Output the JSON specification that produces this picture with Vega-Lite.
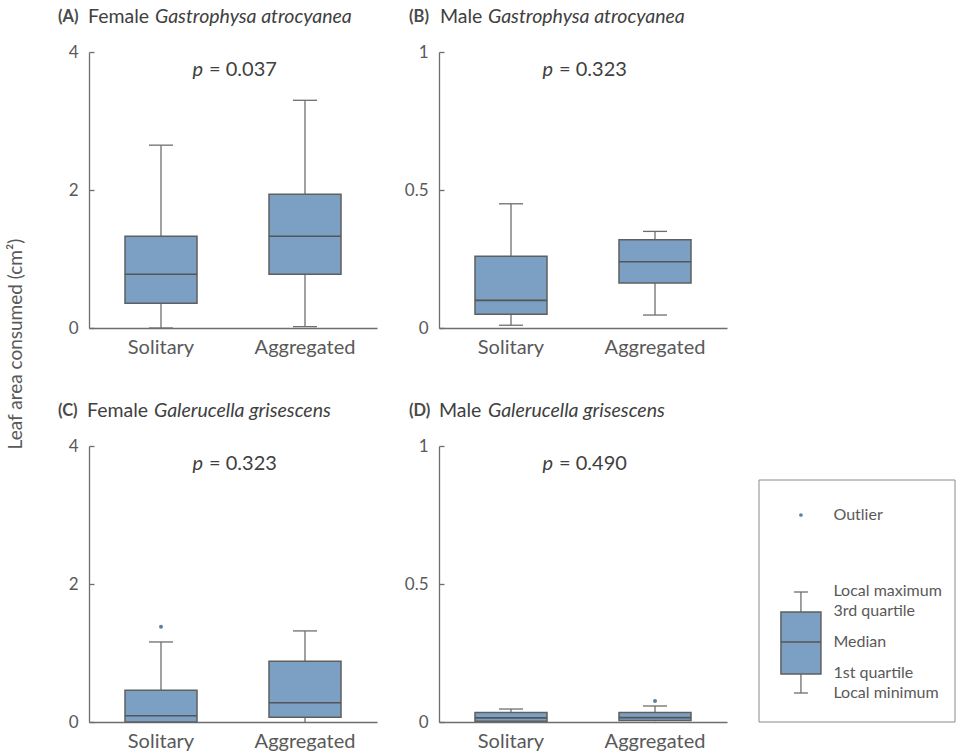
{
  "$schema": "https://vega.github.io/schema/vega-lite/v6.json",
  "padding": {"left": 6, "top": 7, "right": 2, "bottom": 1},
  "datasets": {
    "stats": [
      {"panel": "A", "group": "Solitary", "min": 0, "q1": 0.36, "median": 0.78, "q3": 1.33, "max": 2.65},
      {"panel": "A", "group": "Aggregated", "min": 0.02, "q1": 0.78, "median": 1.33, "q3": 1.94, "max": 3.3},
      {"panel": "B", "group": "Solitary", "min": 0.01, "q1": 0.05, "median": 0.1, "q3": 0.26, "max": 0.45},
      {"panel": "B", "group": "Aggregated", "min": 0.047, "q1": 0.163, "median": 0.24, "q3": 0.32, "max": 0.35},
      {"panel": "C", "group": "Solitary", "min": 0, "q1": 0, "median": 0.09, "q3": 0.46, "max": 1.16},
      {"panel": "C", "group": "Aggregated", "min": 0, "q1": 0.07, "median": 0.28, "q3": 0.88, "max": 1.32},
      {"panel": "D", "group": "Solitary", "min": 0, "q1": 0.003, "median": 0.015, "q3": 0.034, "max": 0.047},
      {"panel": "D", "group": "Aggregated", "min": 0.003, "q1": 0.005, "median": 0.016, "q3": 0.034, "max": 0.058}
    ],
    "outliers": [
      {"panel": "C", "group": "Solitary", "value": 1.38},
      {"panel": "D", "group": "Aggregated", "value": 0.076}
    ],
    "pvals": [
      {"panel": "A", "p": "= 0.037", "lab": "(A)", "sex": "Female", "sp": "Gastrophysa atrocyanea"},
      {"panel": "B", "p": "= 0.323", "lab": "(B)", "sex": "Male", "sp": "Gastrophysa atrocyanea"},
      {"panel": "C", "p": "= 0.323", "lab": "(C)", "sex": "Female", "sp": "Galerucella grisescens"},
      {"panel": "D", "p": "= 0.490", "lab": "(D)", "sex": "Male", "sp": "Galerucella grisescens"}
    ],
    "legendBox": [
      {"min": 1.45, "q1": 2.4, "median": 4.0, "q3": 5.5, "max": 6.5}
    ],
    "legendFrame": [
      {"x0": 0, "x1": 1, "y0": 0, "y1": 12.1}
    ],
    "legendText": [
      {"label": "Outlier", "y": 10.35},
      {"label": "Local maximum", "y": 6.55},
      {"label": "3rd quartile", "y": 5.55},
      {"label": "Median", "y": 4.0},
      {"label": "1st quartile", "y": 2.45},
      {"label": "Local minimum", "y": 1.45}
    ],
    "legendOutlier": [{"y": 10.35}]
  },
  "title": {"text": "Leaf area consumed (cm²)", "orient": "left", "anchor": "middle", "frame": "bounds", "fontSize": 19, "fontWeight": "normal", "color": "#595959", "font": "Lato", "offset": 32, "dx": 35},
  "spacing": 44,
  "vconcat": [
    {
      "spacing": 27,
      "hconcat": [
        {
          "width": 288, "height": 276,
          "layer": [
            {"data": {"name": "stats"}, "transform": [{"filter": "datum.panel === 'A'"}],
             "mark": {"type": "rule", "color": "#6e6e6e", "strokeWidth": 1.3},
             "encoding": {"x": {"field": "group", "type": "nominal", "sort": ["Solitary", "Aggregated"], "scale": {"paddingInner": 0, "paddingOuter": 0}, "axis": {"title": null}},
                          "y": {"field": "min", "type": "quantitative", "scale": {"domain": [0, 4], "nice": false}, "axis": {"values": [0, 2, 4], "format": "d", "title": null}},
                          "y2": {"field": "max"}}},
            {"data": {"name": "stats"}, "transform": [{"filter": "datum.panel === 'A'"}],
             "mark": {"type": "bar", "fill": "#7BA0C4", "stroke": "#5f5f5f", "strokeWidth": 1.5, "width": {"band": 0.5}},
             "encoding": {"x": {"field": "group", "type": "nominal", "sort": ["Solitary", "Aggregated"]},
                          "y": {"field": "q1", "type": "quantitative"}, "y2": {"field": "q3"}}},
            {"data": {"name": "stats"}, "transform": [{"filter": "datum.panel === 'A'"}],
             "mark": {"type": "tick", "color": "#555555", "thickness": 1.6, "size": 72, "opacity": 1},
             "encoding": {"x": {"field": "group", "type": "nominal", "sort": ["Solitary", "Aggregated"]}, "y": {"field": "median", "type": "quantitative"}}},
            {"data": {"name": "stats"}, "transform": [{"filter": "datum.panel === 'A'"}],
             "mark": {"type": "tick", "color": "#6e6e6e", "thickness": 1.3, "size": 24, "opacity": 1},
             "encoding": {"x": {"field": "group", "type": "nominal", "sort": ["Solitary", "Aggregated"]}, "y": {"field": "min", "type": "quantitative"}}},
            {"data": {"name": "stats"}, "transform": [{"filter": "datum.panel === 'A'"}],
             "mark": {"type": "tick", "color": "#6e6e6e", "thickness": 1.3, "size": 24, "opacity": 1},
             "encoding": {"x": {"field": "group", "type": "nominal", "sort": ["Solitary", "Aggregated"]}, "y": {"field": "max", "type": "quantitative"}}},
            {"data": {"name": "pvals"}, "transform": [{"filter": "datum.panel === 'A'"}],
             "mark": {"type": "text", "align": "right", "baseline": "middle", "dx": -30, "fontStyle": "italic", "fontSize": 20, "font": "Lato", "color": "#404040", "text": "p"},
             "encoding": {"y": {"datum": 3.74}}},
            {"data": {"name": "pvals"}, "transform": [{"filter": "datum.panel === 'A'"}],
             "mark": {"type": "text", "align": "left", "baseline": "middle", "dx": -24, "fontSize": 20, "font": "Lato", "color": "#404040"},
             "encoding": {"y": {"datum": 3.74}, "text": {"field": "p"}}},
            {"data": {"name": "pvals"}, "transform": [{"filter": "datum.panel === 'A'"}],
             "mark": {"type": "text", "align": "left", "baseline": "middle", "dx": -175, "dy": -35, "fontSize": 16.5, "fontWeight": "bold", "font": "Lato", "color": "#4a4a4a"},
             "encoding": {"y": {"datum": 4}, "text": {"field": "lab"}}},
            {"data": {"name": "pvals"}, "transform": [{"filter": "datum.panel === 'A'"}],
             "mark": {"type": "text", "align": "left", "baseline": "middle", "dx": -145, "dy": -35, "fontSize": 19.5, "font": "Lato", "color": "#404040"},
             "encoding": {"y": {"datum": 4}, "text": {"field": "sex"}}},
            {"data": {"name": "pvals"}, "transform": [{"filter": "datum.panel === 'A'"}],
             "mark": {"type": "text", "align": "left", "baseline": "middle", "dx": -78, "dy": -35, "fontSize": 19.5, "fontStyle": "italic", "font": "Lato", "color": "#404040"},
             "encoding": {"y": {"datum": 4}, "text": {"field": "sp"}}}
          ]
        },
        {
          "width": 288, "height": 276,
          "layer": [
            {"data": {"name": "stats"}, "transform": [{"filter": "datum.panel === 'B'"}],
             "mark": {"type": "rule", "color": "#6e6e6e", "strokeWidth": 1.3},
             "encoding": {"x": {"field": "group", "type": "nominal", "sort": ["Solitary", "Aggregated"], "scale": {"paddingInner": 0, "paddingOuter": 0}, "axis": {"title": null}},
                          "y": {"field": "min", "type": "quantitative", "scale": {"domain": [0, 1], "nice": false}, "axis": {"values": [0, 0.5, 1], "format": ".1~f", "title": null}},
                          "y2": {"field": "max"}}},
            {"data": {"name": "stats"}, "transform": [{"filter": "datum.panel === 'B'"}],
             "mark": {"type": "bar", "fill": "#7BA0C4", "stroke": "#5f5f5f", "strokeWidth": 1.5, "width": {"band": 0.5}},
             "encoding": {"x": {"field": "group", "type": "nominal", "sort": ["Solitary", "Aggregated"]},
                          "y": {"field": "q1", "type": "quantitative"}, "y2": {"field": "q3"}}},
            {"data": {"name": "stats"}, "transform": [{"filter": "datum.panel === 'B'"}],
             "mark": {"type": "tick", "color": "#555555", "thickness": 1.6, "size": 72, "opacity": 1},
             "encoding": {"x": {"field": "group", "type": "nominal", "sort": ["Solitary", "Aggregated"]}, "y": {"field": "median", "type": "quantitative"}}},
            {"data": {"name": "stats"}, "transform": [{"filter": "datum.panel === 'B'"}],
             "mark": {"type": "tick", "color": "#6e6e6e", "thickness": 1.3, "size": 24, "opacity": 1},
             "encoding": {"x": {"field": "group", "type": "nominal", "sort": ["Solitary", "Aggregated"]}, "y": {"field": "min", "type": "quantitative"}}},
            {"data": {"name": "stats"}, "transform": [{"filter": "datum.panel === 'B'"}],
             "mark": {"type": "tick", "color": "#6e6e6e", "thickness": 1.3, "size": 24, "opacity": 1},
             "encoding": {"x": {"field": "group", "type": "nominal", "sort": ["Solitary", "Aggregated"]}, "y": {"field": "max", "type": "quantitative"}}},
            {"data": {"name": "pvals"}, "transform": [{"filter": "datum.panel === 'B'"}],
             "mark": {"type": "text", "align": "right", "baseline": "middle", "dx": -30, "fontStyle": "italic", "fontSize": 20, "font": "Lato", "color": "#404040", "text": "p"},
             "encoding": {"y": {"datum": 0.935}}},
            {"data": {"name": "pvals"}, "transform": [{"filter": "datum.panel === 'B'"}],
             "mark": {"type": "text", "align": "left", "baseline": "middle", "dx": -24, "fontSize": 20, "font": "Lato", "color": "#404040"},
             "encoding": {"y": {"datum": 0.935}, "text": {"field": "p"}}},
            {"data": {"name": "pvals"}, "transform": [{"filter": "datum.panel === 'B'"}],
             "mark": {"type": "text", "align": "left", "baseline": "middle", "dx": -174, "dy": -35, "fontSize": 16.5, "fontWeight": "bold", "font": "Lato", "color": "#4a4a4a"},
             "encoding": {"y": {"datum": 1}, "text": {"field": "lab"}}},
            {"data": {"name": "pvals"}, "transform": [{"filter": "datum.panel === 'B'"}],
             "mark": {"type": "text", "align": "left", "baseline": "middle", "dx": -143, "dy": -35, "fontSize": 19.5, "font": "Lato", "color": "#404040"},
             "encoding": {"y": {"datum": 1}, "text": {"field": "sex"}}},
            {"data": {"name": "pvals"}, "transform": [{"filter": "datum.panel === 'B'"}],
             "mark": {"type": "text", "align": "left", "baseline": "middle", "dx": -95, "dy": -35, "fontSize": 19.5, "fontStyle": "italic", "font": "Lato", "color": "#404040"},
             "encoding": {"y": {"datum": 1}, "text": {"field": "sp"}}}
          ]
        }
      ]
    },
    {
      "spacing": 27,
      "hconcat": [
        {
          "width": 288, "height": 276,
          "layer": [
            {"data": {"name": "stats"}, "transform": [{"filter": "datum.panel === 'C'"}],
             "mark": {"type": "rule", "color": "#6e6e6e", "strokeWidth": 1.3},
             "encoding": {"x": {"field": "group", "type": "nominal", "sort": ["Solitary", "Aggregated"], "scale": {"paddingInner": 0, "paddingOuter": 0}, "axis": {"title": null}},
                          "y": {"field": "min", "type": "quantitative", "scale": {"domain": [0, 4], "nice": false}, "axis": {"values": [0, 2, 4], "format": "d", "title": null}},
                          "y2": {"field": "max"}}},
            {"data": {"name": "stats"}, "transform": [{"filter": "datum.panel === 'C'"}],
             "mark": {"type": "bar", "fill": "#7BA0C4", "stroke": "#5f5f5f", "strokeWidth": 1.5, "width": {"band": 0.5}},
             "encoding": {"x": {"field": "group", "type": "nominal", "sort": ["Solitary", "Aggregated"]},
                          "y": {"field": "q1", "type": "quantitative"}, "y2": {"field": "q3"}}},
            {"data": {"name": "stats"}, "transform": [{"filter": "datum.panel === 'C'"}],
             "mark": {"type": "tick", "color": "#555555", "thickness": 1.6, "size": 72, "opacity": 1},
             "encoding": {"x": {"field": "group", "type": "nominal", "sort": ["Solitary", "Aggregated"]}, "y": {"field": "median", "type": "quantitative"}}},
            {"data": {"name": "stats"}, "transform": [{"filter": "datum.panel === 'C'"}],
             "mark": {"type": "tick", "color": "#6e6e6e", "thickness": 1.3, "size": 24, "opacity": 1},
             "encoding": {"x": {"field": "group", "type": "nominal", "sort": ["Solitary", "Aggregated"]}, "y": {"field": "max", "type": "quantitative"}}},
            {"data": {"name": "outliers"}, "transform": [{"filter": "datum.panel === 'C'"}],
             "mark": {"type": "point", "filled": true, "size": 16, "color": "#5E7FA3", "opacity": 1},
             "encoding": {"x": {"field": "group", "type": "nominal", "sort": ["Solitary", "Aggregated"]}, "y": {"field": "value", "type": "quantitative"}}},
            {"data": {"name": "pvals"}, "transform": [{"filter": "datum.panel === 'C'"}],
             "mark": {"type": "text", "align": "right", "baseline": "middle", "dx": -30, "fontStyle": "italic", "fontSize": 20, "font": "Lato", "color": "#404040", "text": "p"},
             "encoding": {"y": {"datum": 3.74}}},
            {"data": {"name": "pvals"}, "transform": [{"filter": "datum.panel === 'C'"}],
             "mark": {"type": "text", "align": "left", "baseline": "middle", "dx": -24, "fontSize": 20, "font": "Lato", "color": "#404040"},
             "encoding": {"y": {"datum": 3.74}, "text": {"field": "p"}}},
            {"data": {"name": "pvals"}, "transform": [{"filter": "datum.panel === 'C'"}],
             "mark": {"type": "text", "align": "left", "baseline": "middle", "dx": -175, "dy": -35, "fontSize": 16.5, "fontWeight": "bold", "font": "Lato", "color": "#4a4a4a"},
             "encoding": {"y": {"datum": 4}, "text": {"field": "lab"}}},
            {"data": {"name": "pvals"}, "transform": [{"filter": "datum.panel === 'C'"}],
             "mark": {"type": "text", "align": "left", "baseline": "middle", "dx": -146, "dy": -35, "fontSize": 19.5, "font": "Lato", "color": "#404040"},
             "encoding": {"y": {"datum": 4}, "text": {"field": "sex"}}},
            {"data": {"name": "pvals"}, "transform": [{"filter": "datum.panel === 'C'"}],
             "mark": {"type": "text", "align": "left", "baseline": "middle", "dx": -79, "dy": -35, "fontSize": 19.5, "fontStyle": "italic", "font": "Lato", "color": "#404040"},
             "encoding": {"y": {"datum": 4}, "text": {"field": "sp"}}}
          ]
        },
        {
          "width": 288, "height": 276,
          "layer": [
            {"data": {"name": "stats"}, "transform": [{"filter": "datum.panel === 'D'"}],
             "mark": {"type": "rule", "color": "#6e6e6e", "strokeWidth": 1.3},
             "encoding": {"x": {"field": "group", "type": "nominal", "sort": ["Solitary", "Aggregated"], "scale": {"paddingInner": 0, "paddingOuter": 0}, "axis": {"title": null}},
                          "y": {"field": "min", "type": "quantitative", "scale": {"domain": [0, 1], "nice": false}, "axis": {"values": [0, 0.5, 1], "format": ".1~f", "title": null}},
                          "y2": {"field": "max"}}},
            {"data": {"name": "stats"}, "transform": [{"filter": "datum.panel === 'D'"}],
             "mark": {"type": "bar", "fill": "#7BA0C4", "stroke": "#5f5f5f", "strokeWidth": 1.5, "width": {"band": 0.5}},
             "encoding": {"x": {"field": "group", "type": "nominal", "sort": ["Solitary", "Aggregated"]},
                          "y": {"field": "q1", "type": "quantitative"}, "y2": {"field": "q3"}}},
            {"data": {"name": "stats"}, "transform": [{"filter": "datum.panel === 'D'"}],
             "mark": {"type": "tick", "color": "#555555", "thickness": 1.6, "size": 72, "opacity": 1},
             "encoding": {"x": {"field": "group", "type": "nominal", "sort": ["Solitary", "Aggregated"]}, "y": {"field": "median", "type": "quantitative"}}},
            {"data": {"name": "stats"}, "transform": [{"filter": "datum.panel === 'D'"}],
             "mark": {"type": "tick", "color": "#6e6e6e", "thickness": 1.3, "size": 24, "opacity": 1},
             "encoding": {"x": {"field": "group", "type": "nominal", "sort": ["Solitary", "Aggregated"]}, "y": {"field": "max", "type": "quantitative"}}},
            {"data": {"name": "outliers"}, "transform": [{"filter": "datum.panel === 'D'"}],
             "mark": {"type": "point", "filled": true, "size": 16, "color": "#5E7FA3", "opacity": 1},
             "encoding": {"x": {"field": "group", "type": "nominal", "sort": ["Solitary", "Aggregated"]}, "y": {"field": "value", "type": "quantitative"}}},
            {"data": {"name": "pvals"}, "transform": [{"filter": "datum.panel === 'D'"}],
             "mark": {"type": "text", "align": "right", "baseline": "middle", "dx": -30, "fontStyle": "italic", "fontSize": 20, "font": "Lato", "color": "#404040", "text": "p"},
             "encoding": {"y": {"datum": 0.935}}},
            {"data": {"name": "pvals"}, "transform": [{"filter": "datum.panel === 'D'"}],
             "mark": {"type": "text", "align": "left", "baseline": "middle", "dx": -24, "fontSize": 20, "font": "Lato", "color": "#404040"},
             "encoding": {"y": {"datum": 0.935}, "text": {"field": "p"}}},
            {"data": {"name": "pvals"}, "transform": [{"filter": "datum.panel === 'D'"}],
             "mark": {"type": "text", "align": "left", "baseline": "middle", "dx": -174, "dy": -35, "fontSize": 16.5, "fontWeight": "bold", "font": "Lato", "color": "#4a4a4a"},
             "encoding": {"y": {"datum": 1}, "text": {"field": "lab"}}},
            {"data": {"name": "pvals"}, "transform": [{"filter": "datum.panel === 'D'"}],
             "mark": {"type": "text", "align": "left", "baseline": "middle", "dx": -144, "dy": -35, "fontSize": 19.5, "font": "Lato", "color": "#404040"},
             "encoding": {"y": {"datum": 1}, "text": {"field": "sex"}}},
            {"data": {"name": "pvals"}, "transform": [{"filter": "datum.panel === 'D'"}],
             "mark": {"type": "text", "align": "left", "baseline": "middle", "dx": -95, "dy": -35, "fontSize": 19.5, "fontStyle": "italic", "font": "Lato", "color": "#404040"},
             "encoding": {"y": {"datum": 1}, "text": {"field": "sp"}}}
          ]
        },
        {
          "width": 206, "height": 276,
          "layer": [
            {"data": {"name": "legendFrame"},
             "mark": {"type": "rect", "fill": null, "filled": false, "stroke": "#8a8a8a", "strokeWidth": 1},
             "encoding": {"x": {"field": "x0", "type": "quantitative", "scale": {"domain": [0, 1], "nice": false}, "axis": null},
                          "x2": {"field": "x1"},
                          "y": {"field": "y0", "type": "quantitative", "scale": {"domain": [0, 13.8], "nice": false}, "axis": null},
                          "y2": {"field": "y1"}}},
            {"data": {"name": "legendBox"},
             "mark": {"type": "rule", "color": "#6e6e6e", "strokeWidth": 1.3},
             "encoding": {"x": {"datum": 0.214, "type": "quantitative"},
                          "y": {"field": "min", "type": "quantitative"},
                          "y2": {"field": "max"}}},
            {"data": {"name": "legendBox"},
             "mark": {"type": "bar", "fill": "#7BA0C4", "stroke": "#5f5f5f", "strokeWidth": 1.5, "width": 40},
             "encoding": {"x": {"datum": 0.214, "type": "quantitative"},
                          "y": {"field": "q1", "type": "quantitative"}, "y2": {"field": "q3"}}},
            {"data": {"name": "legendBox"},
             "mark": {"type": "tick", "orient": "horizontal", "color": "#555555", "thickness": 1.6, "size": 40, "opacity": 1},
             "encoding": {"x": {"datum": 0.214, "type": "quantitative"}, "y": {"field": "median", "type": "quantitative"}}},
            {"data": {"name": "legendBox"},
             "mark": {"type": "tick", "orient": "horizontal", "color": "#6e6e6e", "thickness": 1.3, "size": 14, "opacity": 1},
             "encoding": {"x": {"datum": 0.214, "type": "quantitative"}, "y": {"field": "min", "type": "quantitative"}}},
            {"data": {"name": "legendBox"},
             "mark": {"type": "tick", "orient": "horizontal", "color": "#6e6e6e", "thickness": 1.3, "size": 14, "opacity": 1},
             "encoding": {"x": {"datum": 0.214, "type": "quantitative"}, "y": {"field": "max", "type": "quantitative"}}},
            {"data": {"name": "legendOutlier"},
             "mark": {"type": "point", "filled": true, "size": 14, "color": "#5E7FA3", "opacity": 1},
             "encoding": {"x": {"datum": 0.214, "type": "quantitative"}, "y": {"field": "y", "type": "quantitative"}}},
            {"data": {"name": "legendText"},
             "mark": {"type": "text", "align": "left", "baseline": "middle", "fontSize": 16, "font": "Lato", "color": "#595959"},
             "encoding": {"x": {"datum": 0.38, "type": "quantitative"}, "y": {"field": "y", "type": "quantitative"}, "text": {"field": "label"}}}
          ]
        }
      ]
    }
  ],
  "config": {
    "font": "Lato",
    "view": {"stroke": null},
    "axis": {"grid": false, "domainColor": "#6e6e6e", "domainWidth": 1.3, "tickColor": "#6e6e6e", "tickWidth": 1.3, "labelColor": "#595959", "labelFont": "Lato", "labelFontSize": 17},
    "axisY": {"tickSize": -5, "labelPadding": 16},
    "axisX": {"ticks": false, "labelPadding": 9, "labelAngle": 0, "labelFontSize": 20}
  }
}
